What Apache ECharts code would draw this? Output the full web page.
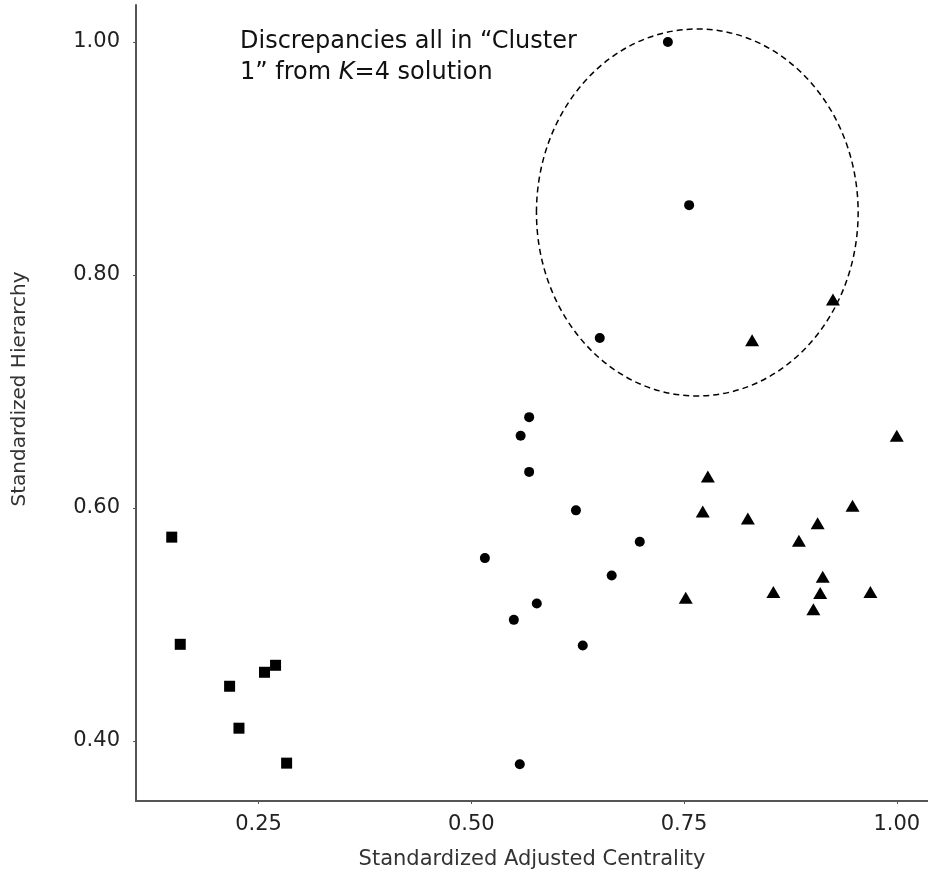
<!DOCTYPE html>
<html>
<head>
<meta charset="utf-8">
<script src="https://cdn.jsdelivr.net/npm/echarts@6/dist/echarts.min.js"></script>
<style>
  html, body { margin: 0; padding: 0; background: #fff; }
  #chart { width: 928px; height: 875px; }
</style>
</head>
<body>
<div id="chart"></div>
<script>
// squares - low centrality group
var squareX = [0.148, 0.158, 0.216, 0.257, 0.270, 0.227, 0.283];
var squareY = [0.575, 0.483, 0.447, 0.459, 0.465, 0.411, 0.381];

// circles
var circleX = [0.731, 0.756, 0.651, 0.568, 0.558, 0.568, 0.623, 0.698, 0.516, 0.665, 0.577, 0.550, 0.631, 0.557];
var circleY = [1.000, 0.860, 0.746, 0.678, 0.662, 0.631, 0.598, 0.571, 0.557, 0.542, 0.518, 0.504, 0.482, 0.380];

// triangles
var triX = [0.925, 0.830, 1.000, 0.778, 0.772, 0.825, 0.907, 0.948, 0.885, 0.913, 0.855, 0.910, 0.969, 0.902, 0.752];
var triY = [0.779, 0.744, 0.662, 0.627, 0.597, 0.591, 0.587, 0.602, 0.572, 0.541, 0.528, 0.527, 0.528, 0.513, 0.523];

var xTicks = [0.25, 0.50, 0.75, 1.00];
var yTicks = [0.40, 0.60, 0.80, 1.00];

// dashed ring round the discrepancies (data units)
var ringCenter = [0.7656, 0.8537];
var ringRadius = [0.189, 0.1575];

var font = 'DejaVu Sans';

function zip(xs, ys) {
  return xs.map(function (x, i) { return [x, ys[i]]; });
}

var chart = echarts.init(document.getElementById('chart'));

var option = {
  animation: false,
  grid: { left: 136, top: 5, right: 0, bottom: 74 },
  xAxis: {
    type: 'value',
    min: 0.106,
    max: 1.0367,
    name: 'Standardized Adjusted Centrality',
    nameLocation: 'middle',
    nameGap: 48,
    nameTextStyle: { fontFamily: font, fontSize: 21, color: '#333' },
    axisLine: { show: true, lineStyle: { color: '#555', width: 2 } },
    axisTick: { show: true, customValues: xTicks, length: 3, lineStyle: { color: '#555' } },
    axisLabel: {
      customValues: xTicks,
      margin: 13,
      fontFamily: font, fontSize: 21, color: '#222',
      formatter: function (v) { return v.toFixed(2); }
    },
    splitLine: { show: false }
  },
  yAxis: {
    type: 'value',
    min: 0.3485,
    max: 1.0318,
    name: 'Standardized Hierarchy',
    nameLocation: 'middle',
    nameGap: 106,
    nameTextStyle: { fontFamily: font, fontSize: 20, color: '#333', padding: [0, 0, 0, 28] },
    axisLine: { show: true, lineStyle: { color: '#555', width: 2 } },
    axisTick: { show: true, customValues: yTicks, length: 3, lineStyle: { color: '#555' } },
    axisLabel: {
      customValues: yTicks,
      margin: 16,
      fontFamily: font, fontSize: 21, color: '#222',
      formatter: function (v) { return v.toFixed(2); }
    },
    splitLine: { show: false }
  },
  series: [
    {
      name: 'squares', type: 'scatter', symbol: 'rect', symbolSize: 11,
      itemStyle: { color: '#000', opacity: 1 },
      data: zip(squareX, squareY)
    },
    {
      name: 'circles', type: 'scatter', symbol: 'circle', symbolSize: 10,
      itemStyle: { color: '#000', opacity: 1 },
      data: zip(circleX, circleY)
    },
    {
      name: 'triangles', type: 'scatter', symbol: 'triangle', symbolSize: [14, 12],
      itemStyle: { color: '#000', opacity: 1 },
      data: zip(triX, triY)
    }
  ]
};
chart.setOption(option);

// place the dashed ellipse and the note using the axes
var c = chart.convertToPixel({ gridIndex: 0 }, ringCenter);
var edge = chart.convertToPixel({ gridIndex: 0 }, [ringCenter[0] + ringRadius[0], ringCenter[1] + ringRadius[1]]);

chart.setOption({
  graphic: [
    {
      type: 'ellipse',
      shape: { cx: c[0], cy: c[1], rx: Math.abs(edge[0] - c[0]), ry: Math.abs(c[1] - edge[1]) },
      style: { fill: 'none', stroke: '#000', lineWidth: 1.5, lineDash: [6, 4] },
      silent: true
    },
    {
      type: 'text',
      left: 240,
      top: 26,
      style: {
        text: 'Discrepancies all in \u201cCluster\n1\u201d from {i|K}=4 solution',
        fontFamily: font,
        fontSize: 24,
        lineHeight: 31,
        fill: '#111',
        rich: {
          i: { fontFamily: font, fontSize: 24, fontStyle: 'italic', lineHeight: 31, fill: '#111' }
        }
      }
    }
  ]
});
</script>
</body>
</html>
